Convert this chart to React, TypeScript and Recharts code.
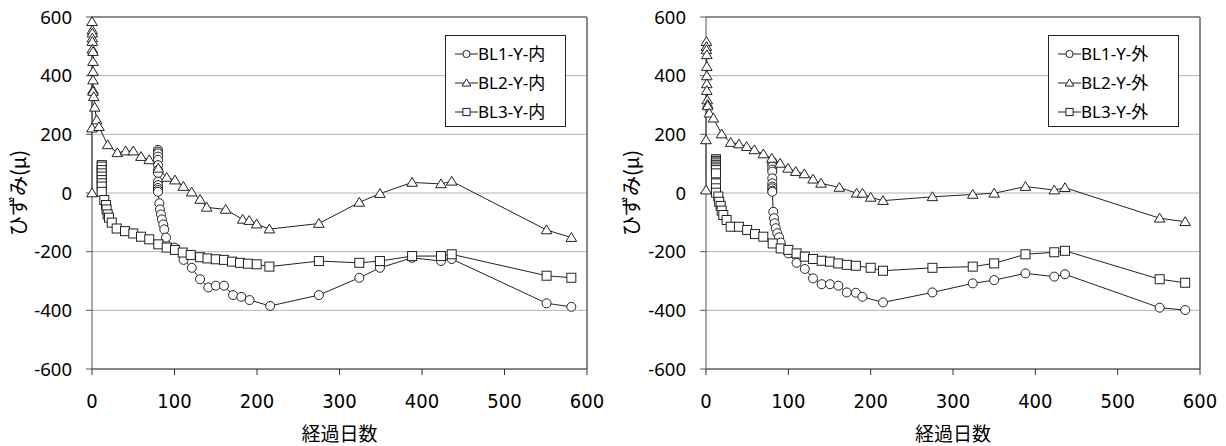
import React from 'react'
import { LineChart, Line, XAxis, YAxis, CartesianGrid, Legend, ReferenceLine } from 'recharts'

// 経過日数 / ひずみ readings
const inBL1Days = [80, 80, 80, 80, 80, 80, 80, 80, 80, 80, 80, 80, 80, 81.6, 82.4, 83.6, 84.8, 86.4, 87.6, 89.7, 100, 111, 121, 131, 141, 150, 160, 171, 181, 191, 216, 275, 324, 349, 388, 423, 436, 551, 581]
const inBL1Vals = [147, 141, 135, 124, 113, 95, 78, 68, 39, 27, 17, 10, 4, -35, -56, -73, -90, -107, -124, -152, -186, -228, -255, -294, -322, -316, -316, -348, -354, -365, -385, -348, -289, -255, -221, -232, -225, -376, -388]

const inBL2Days = [0, 0, 0, 0.4, 0.4, 0.4, 0.4, 0.4, 1.2, 1.2, 1.2, 1.2, 1.2, 1.2, 2.1, 3.3, 5.7, 8.5, 19, 30.7, 40.8, 50, 59.4, 69.4, 80.4, 90.5, 100.6, 110.7, 120.8, 131, 139, 162, 182.6, 190.6, 199.6, 215, 275, 324, 349, 388, 423, 436, 551, 581]
const inBL2Vals = [0, 221, 584, 555, 545, 528, 516, 490, 482, 448, 414, 385, 351, 346, 328, 292, 249, 226, 164, 137, 143, 143, 124, 113, 84, 53, 44, 22, 3, -22, -49, -56, -90, -94, -106, -123, -104, -32, -2, 36, 31, 40, -126, -152]

const inBL3Days = [11.8, 11.8, 11.8, 11.8, 11.8, 11.8, 11.8, 11.8, 11.8, 14.9, 17, 17.7, 19, 20.6, 23.9, 29.9, 40, 50, 59.4, 69.4, 80.4, 90.5, 100.6, 110, 119.6, 131, 140, 150, 160, 169.7, 179.4, 189, 199.6, 215, 275, 324, 349, 388, 423, 436, 551, 581]
const inBL3Vals = [95, 90, 78, 67, 56, 44, 33, 22, 4, -24, -41, -56, -73, -84, -101, -121, -130, -138, -149, -158, -175, -186, -194, -203, -211, -219, -223, -226, -228, -234, -238, -241, -243, -251, -232, -238, -232, -215, -215, -209, -282, -289]

const outBL1Days = [80.5, 80.5, 80.5, 80.5, 80.5, 80.5, 80.5, 80.5, 80.5, 80.5, 80.5, 81.7, 82.6, 83.4, 84.7, 86.6, 88.7, 90.7, 100, 110, 120, 130, 140.5, 150.6, 160.7, 171, 182, 190, 215, 275, 324, 350, 388, 423, 436, 551, 582]
const outBL1Vals = [107, 98, 90, 80, 73, 50, 33, 22, 16, 8, 4, -64, -86, -103, -120, -137, -151, -169, -206, -238, -259, -291, -311, -311, -316, -339, -340, -354, -373, -339, -308, -297, -274, -285, -277, -391, -399]

const outBL2Days = [0, 0, 0.5, 0.5, 0.5, 1, 1, 1, 1, 1, 1.5, 2, 2, 4, 9, 19, 30, 40, 49.4, 58.7, 69.6, 80, 90, 99.6, 109, 119.4, 130, 139.7, 162, 183, 190, 200, 215, 275, 324, 350, 388, 423, 436, 551, 582]
const outBL2Vals = [10, 181, 516, 499, 488, 471, 431, 399, 372, 349, 317, 302, 297, 272, 255, 201, 172, 167, 158, 147, 133, 118, 101, 84, 73, 65, 47, 33, 19, -1, -1, -15, -26, -13, -5, -1, 22, 10, 18, -86, -98]

const outBL3Days = [12.1, 12.1, 12.1, 12.1, 12.1, 12.1, 12.1, 12.1, 12.1, 12.1, 12.1, 12.1, 15, 16, 17.8, 19, 21, 25, 30, 40, 50, 59.5, 69.6, 81, 90.7, 100, 110, 120, 130, 140.5, 150.6, 160.7, 171, 182, 200, 215, 275, 324, 350, 388, 423, 436, 551, 582]
const outBL3Vals = [115, 110, 107, 101, 95, 90, 84, 78, 67, 33, 16, 1, -12, -30, -44, -60, -75, -92, -115, -115, -126, -140, -149, -172, -189, -194, -206, -217, -225, -231, -234, -240, -245, -248, -255, -265, -255, -251, -240, -209, -202, -197, -294, -306]

const dayTicks = [0, 100, 200, 300, 400, 500, 600]
const strainTicks = [-600, -400, -200, 0, 200, 400, 600]
const inNames = ['BL1-Y-内', 'BL2-Y-内', 'BL3-Y-内']
const outNames = ['BL1-Y-外', 'BL2-Y-外', 'BL3-Y-外']

type Shape = 'circle' | 'triangle' | 'square'
const shapes: Shape[] = ['circle', 'triangle', 'square']

const toPoints = (days: number[], vals: number[]) => days.map((d, i) => ({ day: d, v: vals[i] }))

const inSeries = [toPoints(inBL1Days, inBL1Vals), toPoints(inBL2Days, inBL2Vals), toPoints(inBL3Days, inBL3Vals)]
const outSeries = [toPoints(outBL1Days, outBL1Vals), toPoints(outBL2Days, outBL2Vals), toPoints(outBL3Days, outBL3Vals)]

const INK = '#222'

const Marker = ({ cx, cy, shape, size = 4.5 }: any) => {
  if (cx == null || cy == null) return null
  if (shape === 'circle') {
    return <circle cx={cx} cy={cy} r={size} fill="#fff" stroke={INK} strokeWidth={1} />
  }
  if (shape === 'square') {
    return <rect x={cx - size} y={cy - size} width={size * 2} height={size * 2} fill="#fff" stroke={INK} strokeWidth={1} />
  }
  const w = size + 0.8
  return (
    <polygon
      points={`${cx},${cy - size - 0.5} ${cx + w},${cy + size * 0.85} ${cx - w},${cy + size * 0.85}`}
      fill="#fff"
      stroke={INK}
      strokeWidth={1}
    />
  )
}

const LegendBox = ({ names, width }: any) => (
  <div
    style={{
      width,
      height: 92,
      border: '1px solid #222',
      background: '#fff',
      boxSizing: 'border-box',
      paddingTop: 3,
      fontFamily: '"Noto Sans", "Noto Sans CJK JP", sans-serif',
      fontSize: 17,
      color: '#000',
    }}
  >
    {names.map((n: string, i: number) => (
      <div key={n} style={{ display: 'flex', alignItems: 'center', height: 29, paddingLeft: 9 }}>
        <svg width={23} height={14} style={{ display: 'block' }}>
          <line x1={0} x2={23} y1={7} y2={7} stroke={INK} strokeWidth={1} />
          <Marker cx={11.5} cy={7} shape={shapes[i]} size={3.6} />
        </svg>
        <span style={{ lineHeight: '20px' }}>{n}</span>
      </div>
    ))}
  </div>
)

const StrainChart = ({ series, names, legendWidth, yWidth }: any) => (
  <LineChart width={613} height={446} margin={{ top: 17, right: 26, bottom: 0, left: 0 }}>
    <CartesianGrid horizontal vertical={false} stroke="#b3b3b3" />
    <XAxis
      type="number"
      dataKey="day"
      domain={[0, 600]}
      ticks={dayTicks}
      height={77}
      tickSize={6}
      tickMargin={19}
      stroke="#333"
      tick={{ fill: '#000', fontSize: 20, fontFamily: '"Liberation Sans Narrow", "Arial Narrow", "DejaVu Sans Condensed", sans-serif' }}
      label={{
        content: (p: any) => {
          const vb = p.viewBox
          return (
            <text x={vb.x + vb.width / 2} y={vb.y + vb.height - 14} textAnchor="middle" dominantBaseline="central" fontSize={19} fontFamily='"Noto Sans CJK JP", sans-serif' fill="#000">
              経過日数
            </text>
          )
        },
      }}
    />
    <YAxis
      type="number"
      domain={[-600, 600]}
      ticks={strainTicks}
      width={yWidth}
      tickSize={6}
      tickMargin={14}
      stroke="#555"
      tick={{ fill: '#000', fontSize: 18.5, fontFamily: '"Noto Sans", sans-serif' }}
      label={{
        content: (p: any) => {
          const vb = p.viewBox
          const x = vb.x + 17
          const y = vb.y + vb.height / 2
          return (
            <text x={x} y={y} transform={`rotate(-90 ${x} ${y})`} textAnchor="middle" dominantBaseline="central" fontSize={20} fontFamily='"Noto Sans CJK JP", sans-serif' fill="#000">
              ひずみ(μ)
            </text>
          )
        },
      }}
    />
    <ReferenceLine y={600} stroke="#444" />
    <ReferenceLine x={600} stroke="#888" strokeWidth={2} />
    {series.map((data: any[], i: number) => (
      <Line
        key={names[i]}
        data={data}
        dataKey="v"
        name={names[i]}
        type="linear"
        stroke={INK}
        strokeWidth={1}
        isAnimationActive={false}
        activeDot={false}
        dot={(p: any) => <Marker key={`${names[i]}-${p.index}`} cx={p.cx} cy={p.cy} shape={shapes[i]} />}
      />
    ))}
    <Legend
      layout="horizontal"
      verticalAlign="middle"
      align="center"
      wrapperStyle={{ position: 'absolute', left: 566 - legendWidth, top: 35, width: legendWidth, height: 92 }}
      content={() => <LegendBox names={names} width={legendWidth} />}
    />
  </LineChart>
)

export default function App() {
  return (
    <div style={{ position: 'absolute', left: 0, top: 0, width: 1226, height: 446, background: '#fff', display: 'flex' }}>
      <div style={{ width: 613, height: 446, position: 'relative' }}>
        <StrainChart series={inSeries} names={inNames} legendWidth={121} yWidth={92} />
      </div>
      <div style={{ width: 613, height: 446, position: 'relative' }}>
        <StrainChart series={outSeries} names={outNames} legendWidth={131} yWidth={93} />
      </div>
    </div>
  )
}
